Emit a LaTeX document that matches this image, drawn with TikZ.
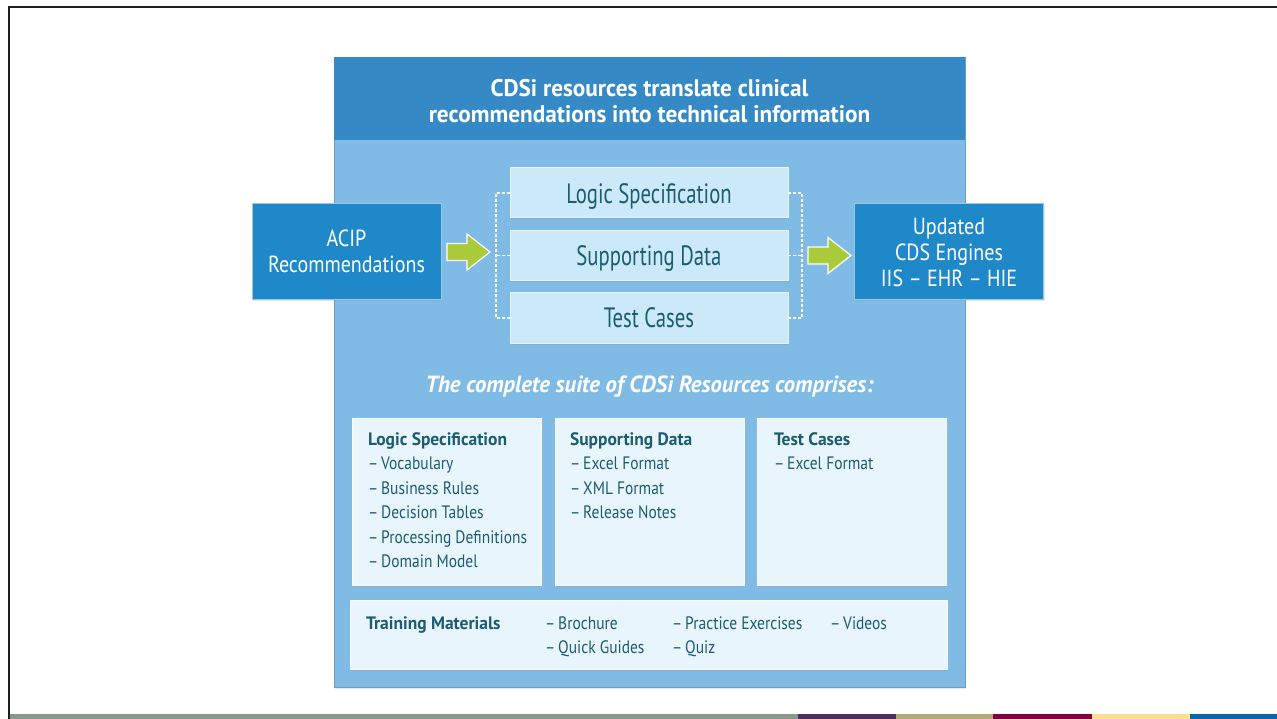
\documentclass[tikz,border=0pt]{standalone}
\usepackage{fontspec}
\setmainfont[FakeStretch=0.86]{PT Sans}
\newfontfamily\regf[FakeStretch=0.86]{PT Sans}
\newfontfamily\midf[FakeStretch=0.74]{PT Sans}
\newfontfamily\boldf[FakeStretch=0.97]{PT Sans}
\usetikzlibrary{shadows}
\definecolor{panelc}{HTML}{80BBE6}
\definecolor{hdrc}{HTML}{358AC6}
\definecolor{dboxc}{HTML}{1F88C9}
\definecolor{mboxc}{HTML}{CCE9FA}
\definecolor{lboxc}{HTML}{E9F5FD}
\definecolor{txtc}{HTML}{1B5D6F}
\definecolor{grnc}{HTML}{AACA3A}
\definecolor{barg}{HTML}{8B998B}
\definecolor{barp}{HTML}{4F2D5F}
\definecolor{bart}{HTML}{B4A97B}
\definecolor{barc}{HTML}{830041}
\definecolor{bary}{HTML}{FDE08E}
\definecolor{barb}{HTML}{0A66B0}
\newcommand\setfs[2]{\fontsize{#1}{#2}\selectfont}
\begin{document}
\begin{tikzpicture}[x=1pt,y=-1pt,
  every node/.style={inner sep=0pt, outer sep=0pt},
  panelbox/.style={fill=panelc, draw=panelc!85!black, line width=0.6pt,
    drop shadow={opacity=0.18, shadow xshift=1pt, shadow yshift=-2pt}},
  hdrbox/.style={fill=hdrc},
  darkbox/.style={fill=dboxc, draw=white!55!dboxc, line width=1pt,
    minimum width=189pt, minimum height=96pt,
    drop shadow={opacity=0.2, shadow xshift=1pt, shadow yshift=-1.5pt}},
  midbox/.style={fill=mboxc, draw=white!50!mboxc, line width=1pt,
    minimum width=278pt, minimum height=50pt,
    drop shadow={opacity=0.2, shadow xshift=0.8pt, shadow yshift=-1.5pt}},
  listbox/.style={fill=lboxc, draw=white, line width=0.8pt,
    drop shadow={opacity=0.2, shadow xshift=0.8pt, shadow yshift=-1.5pt}},
  hdrtxt/.style={anchor=base, text=white, font=\boldf\setfs{24}{26}\bfseries},
  darktxt/.style={anchor=base, text=white, font=\regf\setfs{23.3}{26}},
  midtxt/.style={anchor=base, text=txtc, font=\midf\setfs{28}{30}},
  suitetxt/.style={anchor=base, text=white, font=\boldf\setfs{23.4}{26}\bfseries\itshape},
  itemtxt/.style={anchor=base west, text=txtc, font=\regf\setfs{18}{20}},
  headtxt/.style={anchor=base west, text=txtc, font=\boldf\setfs{18}{20}\bfseries},
  greenarrow/.style={fill=grnc, draw=white, line width=1.2pt, line join=miter},
  bracket/.style={draw=white, dashed, dash pattern=on 3pt off 2pt, line width=1.3pt}
]
\useasboundingbox (0,0) rectangle (1277,719);
\fill[white] (0,0) rectangle (1277,719);

% bottom colour bar
\fill[barg] (9,714) rectangle (798,719);
\fill[barp] (798,714) rectangle (896,719);
\fill[bart] (896,714) rectangle (993,719);
\fill[barc] (993,714) rectangle (1092,719);
\fill[bary] (1092,714) rectangle (1190,719);
\fill[barb] (1190,714) rectangle (1277,719);
% frame lines
\draw[line width=2.2pt, black!88] (9,719) -- (9,7) -- (1277,7);

% main panel
\node[panelbox, minimum width=631pt, minimum height=630pt] (panel) at (649.5,372) {};
\node[hdrbox, minimum width=631pt, minimum height=83pt] (header) at (649.5,98.5) {};
\node[hdrtxt] (h1) at (649.5,96.7) {CDSi resources translate clinical};
\node[hdrtxt] (h2) at (649.5,122.7) {recommendations into technical information};

% left and right dark boxes
\node[darkbox] (acip) at (346.5,252) {};
\node[darktxt] (acip1) at (346.5,246.7) {ACIP};
\node[darktxt] (acip2) at (346.5,272.3) {Recommendations};
\node[darkbox] (upd) at (949,252) {};
\node[darktxt] (upd1) at (949,234.3) {Updated};
\node[darktxt] (upd2) at (949,260.3) {CDS Engines};
\node[darktxt] (upd3) at (949,286.3) {IIS – EHR – HIE};

% middle boxes
\node[midbox] (ls) at (649,193) {};
\node[midtxt] (lst) at (649,203.3) {Logic Specification};
\node[midbox] (sd) at (649,255.5) {};
\node[midtxt] (sdt) at (649,265.5) {Supporting Data};
\node[midbox] (tc) at (649,318) {};
\node[midtxt] (tct) at (649,327.5) {Test Cases};

% dashed brackets
\draw[bracket] (ls.west) -- ++(-14,0) |- (tc.west);
\draw[bracket] (sd.west) -- ++(-14,0);
\draw[bracket] (ls.east) -- ++(14,0) |- (tc.east);
\draw[bracket] (sd.east) -- ++(14,0);
\coordinate (rb) at ([xshift=14pt]sd.east);

% green arrows
\path (acip.east) ++(6,0) coordinate (a1);
\draw[greenarrow] (a1) ++(0,-8.5) -- ++(20,0) -- ++(0,-9.5) -- ++(23,18) -- ++(-23,18) -- ++(0,-9.5) -- ++(-20,0) -- cycle;
\path (rb) ++(6,0) coordinate (a2);
\draw[greenarrow] (a2) ++(0,-8.5) -- ++(20,0) -- ++(0,-9.5) -- ++(23,18) -- ++(-23,18) -- ++(0,-9.5) -- ++(-20,0) -- cycle;

% suite title
\node[suitetxt] (suite) at (649.5,392) {The complete suite of CDSi Resources comprises:};

% list boxes
\node[listbox, minimum width=189pt, minimum height=167pt] (b1) at (446.5,501.5) {};
\node[listbox, minimum width=189pt, minimum height=167pt] (b2) at (649.5,501.5) {};
\node[listbox, minimum width=189pt, minimum height=167pt] (b3) at (851.5,501.5) {};
\node[listbox, minimum width=597pt, minimum height=69pt] (b4) at (648.5,634.5) {};

\node[headtxt] (b1h) at (368,445) {Logic Specification};
\foreach \t [count=\i] in {Vocabulary, Business Rules, Decision Tables, Processing Definitions, Domain Model}
  \node[itemtxt] (b1i\i) at (368,445+24.5*\i) {–\,\t};

\node[headtxt] (b2h) at (570,445) {Supporting Data};
\foreach \t [count=\i] in {Excel Format, XML Format, Release Notes}
  \node[itemtxt] (b2i\i) at (570,445+24.5*\i) {–\,\t};

\node[headtxt] (b3h) at (774,445) {Test Cases};
\node[itemtxt] (b3i1) at (774,469.5) {–\,Excel Format};

\node[headtxt] (b4h) at (366,629) {Training Materials};
\node[itemtxt] (b4i1) at (545,629) {–\,Brochure};
\node[itemtxt] (b4i2) at (545,653.5) {–\,Quick Guides};
\node[itemtxt] (b4i3) at (672,629) {–\,Practice Exercises};
\node[itemtxt] (b4i4) at (672,653.5) {–\,Quiz};
\node[itemtxt] (b4i5) at (830,629) {–\,Videos};
\end{tikzpicture}
\end{document}
